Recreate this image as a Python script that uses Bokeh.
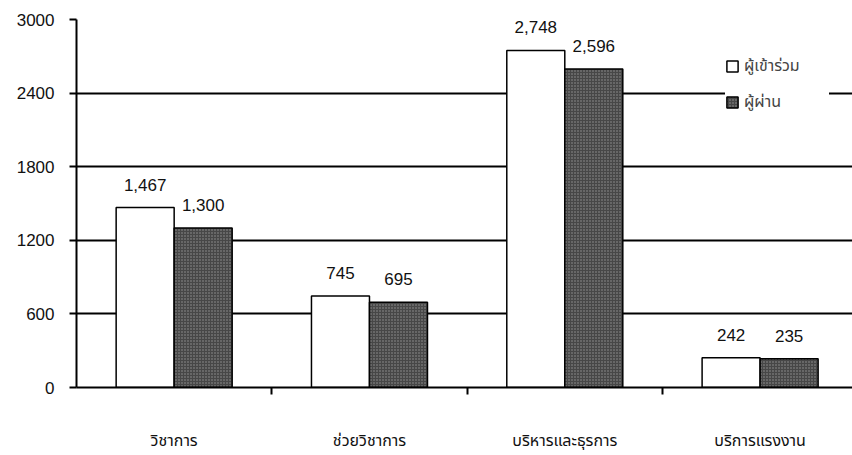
from bokeh.plotting import figure
from bokeh.models import ColumnDataSource, Range1d, FixedTicker, LabelSet, Legend, LegendItem
from bokeh.core.properties import value
from bokeh.embed import file_html
from bokeh.resources import INLINE

categories = ["วิชาการ", "ช่วยวิชาการ", "บริหารและธุรการ", "บริการแรงงาน"]
participants = [1467, 745, 2748, 242]
passed = [1300, 695, 2596, 235]
series_names = ["ผู้เข้าร่วม", "ผู้ผ่าน"]
y_ticks = [0, 600, 1200, 1800, 2400, 3000]

FONT = "Liberation Sans, Arial, sans-serif"
THAI_FONT = "Noto Sans Thai, Tahoma, Liberation Sans, sans-serif"

centers = [i + 0.5 for i in range(len(categories))]
bw = 0.297
src1 = ColumnDataSource(dict(x=[c - bw / 2 for c in centers], top=participants,
                             lab=[f"{v:,}" for v in participants]))
src2 = ColumnDataSource(dict(x=[c + bw / 2 for c in centers], top=passed,
                             lab=[f"{v:,}" for v in passed]))

p = figure(width=852, height=455, output_backend="svg", toolbar_location=None,
           x_range=Range1d(0, 3.973), y_range=Range1d(0, 3000),
           min_border_left=76, min_border_right=0, min_border_top=19, min_border_bottom=68)
p.outline_line_color = None
p.background_fill_color = "white"
p.border_fill_color = "white"

r1 = p.vbar(x="x", top="top", width=bw, source=src1, fill_color="white",
            line_color="black", line_width=1.5)
r2 = p.vbar(x="x", top="top", width=bw, source=src2, fill_color="#474747",
            line_color="black", line_width=1.5, hatch_pattern="dot", hatch_color="#959595",
            hatch_scale=3, hatch_weight=1.2)

for s in (src1, src2):
    p.add_layout(LabelSet(x="x", y="top", text="lab", source=s, text_align="center",
                          text_baseline="alphabetic", y_offset=17, text_font=value(FONT),
                          text_font_size="17px", text_color="#111111"))

# axes
p.xaxis.ticker = FixedTicker(ticks=centers, minor_ticks=[1, 2, 3])
p.xaxis.major_label_overrides = {c: categories[i] for i, c in enumerate(centers)}
p.xaxis.major_tick_out = 0
p.xaxis.major_tick_in = 0
p.xaxis.minor_tick_out = 7
p.xaxis.minor_tick_in = 0
p.xaxis.minor_tick_line_width = 2
p.xaxis.minor_tick_line_color = "black"
p.xaxis.axis_line_width = 2
p.xaxis.axis_line_color = "black"
p.xaxis.major_label_standoff = 34
p.xaxis.major_label_text_font = THAI_FONT
p.xaxis.major_label_text_font_size = "16px"
p.xaxis.major_label_text_color = "#111111"

p.yaxis.ticker = FixedTicker(ticks=y_ticks)
p.yaxis.major_tick_out = 7
p.yaxis.major_tick_in = 0
p.yaxis.major_tick_line_width = 2
p.yaxis.minor_tick_out = 0
p.yaxis.minor_tick_in = 0
p.yaxis.axis_line_width = 2
p.yaxis.axis_line_color = "black"
p.yaxis.major_label_standoff = 15
p.yaxis.major_label_text_font = FONT
p.yaxis.major_label_text_font_size = "17px"
p.yaxis.major_label_text_color = "#111111"

p.xgrid.grid_line_color = None
p.ygrid.ticker = FixedTicker(ticks=y_ticks)
p.ygrid.grid_line_color = "black"
p.ygrid.grid_line_width = 2

legend = Legend(items=[LegendItem(label=series_names[0], renderers=[r1]),
                       LegendItem(label=series_names[1], renderers=[r2])],
                location=(649, 273), border_line_color=None, background_fill_color="white",
                background_fill_alpha=1.0, label_text_font=THAI_FONT,
                label_text_font_size="16px", glyph_width=14, glyph_height=14,
                label_height=20, label_width=85, spacing=12, padding=8, label_standoff=5)
p.add_layout(legend)

open("out.html", "w").write(file_html(p, INLINE))
